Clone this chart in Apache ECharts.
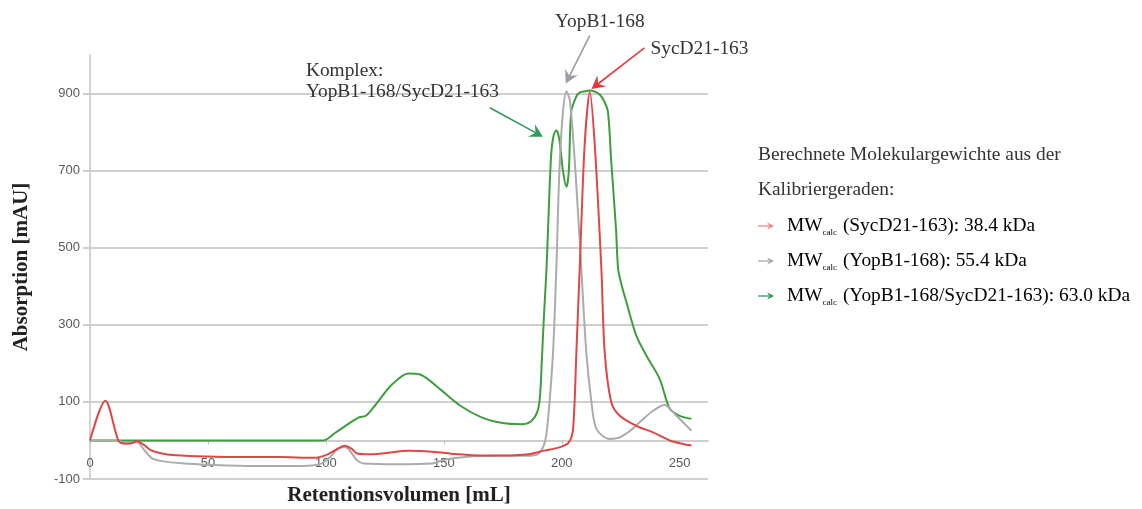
<!DOCTYPE html>
<html>
<head>
<meta charset="utf-8">
<script src="https://cdn.jsdelivr.net/npm/echarts@6/dist/echarts.min.js"></script>
<style>
  html, body { margin: 0; padding: 0; background: #ffffff; }
  #chart { width: 1142px; height: 509px; }
</style>
</head>
<body>
<div id="chart"></div>
<script>
// Elution profiles: [retention volume (mL), absorption (mAU)]
const sycdData = [
  [0, 0], [6.5, 103], [12, 0], [14, -8], [17, -8], [20, -2],
  [23, -12], [26, -26], [30, -33], [35, -38], [45, -41], [60, -43], [80, -43],
  [95, -45], [100, -38], [104, -25], [108, -14], [111, -22], [113, -33],
  [118, -36], [125, -33], [135, -27], [145, -29], [155, -35], [165, -39], [178, -39],
  [186, -36], [192, -27], [199, -18], [203, -5], [204.8, 30], [206.2, 229],
  [207.6, 445], [209.7, 766], [211.9, 904], [214, 766], [216.8, 445], [218.2, 229],
  [221, 99], [224.6, 64], [231.6, 38], [238.7, 21], [245.8, 0], [251.4, -9], [255, -13]
];

const yopbData = [
  [0, 0], [12, 0], [15, -8], [18, -6], [20, -4], [23, -25], [26, -45], [30, -53],
  [40, -60], [50, -63], [70, -66], [90, -66], [98, -60], [102, -42], [105, -22],
  [108, -17], [110, -25], [113, -50], [116, -60], [130, -62], [145, -60], [150, -50],
  [160, -42], [175, -40], [185, -40], [190, -35], [192.8, -5], [194.2, 56],
  [196.3, 229], [197.7, 445], [199, 700], [200.5, 852], [202, 905], [203.5, 880],
  [206, 679], [208.3, 445], [210.4, 229], [212.6, 99], [214.7, 30], [220.3, 4],
  [224.6, 8], [229, 25], [233, 47], [238.7, 77], [243.6, 92], [248.6, 64], [255, 25]
];

const komplexData = [
  [0, 0], [50, 0], [99, 0], [104, 20], [110, 45], [114, 60], [117, 64],
  [121, 92], [128, 145], [135, 174], [140, 171], [149, 130], [157, 90],
  [166, 60], [175, 45], [183, 42], [187, 50], [189.5, 72],
  [190.7, 110], [191.5, 200], [192.5, 330], [193.5, 440],
  [194.5, 600], [195.5, 740], [196.5, 790], [197.7, 805], [199, 780], [200.5, 700],
  [202, 658], [203, 700], [204, 852], [206, 890], [207.6, 903], [210, 906],
  [211.9, 908], [214, 905], [216, 898], [218, 880], [219.6, 852], [221, 722],
  [223, 549], [223.9, 445], [225.5, 400], [227.4, 359], [231.6, 272], [235.9, 220],
  [241.5, 160], [245.8, 82], [250, 64], [255, 56]
];

// Axis extents and tick spacing
const xRange = [0, 262];
const xStep = 50;
const yRange = [-100, 1000];
const yStep = 200;

// Peak labels: arrow tip in data space, tail offset in px
const peakNotes = [
  { lines: ['YopB1-168'], tip: [201.7, 926], tail: [24, -48], color: '#9c9ca4', textAt: [10, -14], align: 'center' },
  { lines: ['SycD21-163'], tip: [212.6, 912], tail: [53, -41], color: '#e53c3c', textAt: [6, 1], align: 'left' },
  { lines: ['Komplex:', 'YopB1-168/SycD21-163'], tip: [192, 788], tail: [-53, -29], color: '#2f9a5c', textAt: [-184, -37], align: 'left', lineGap: 21 }
];

// Side legend
const legendTitle = ['Berechnete Molekulargewichte aus der', 'Kalibriergeraden:'];
const legendRows = [
  { color: '#f08a8a', label: ' (SycD21-163): 38.4 kDa' },
  { color: '#a8a8a8', label: ' (YopB1-168): 55.4 kDa' },
  { color: '#2f9a5c', label: ' (YopB1-168/SycD21-163): 63.0 kDa' }
];

const serif = '"Liberation Serif", "Times New Roman", serif';
const sans = '"Liberation Sans", Arial, sans-serif';
const textSize = 19.4;

const chart = echarts.init(document.getElementById('chart'), null, { renderer: 'canvas' });

function curve(name, data, color) {
  return {
    name, type: 'line', data,
    showSymbol: false, symbol: 'none',
    smooth: 0.3,
    lineStyle: { color, width: 2 },
    itemStyle: { color },
    z: 3
  };
}

chart.setOption({
  backgroundColor: '#ffffff',
  animation: false,
  grid: { left: 90, right: 434, top: 55, bottom: 30, containLabel: false, outerBoundsMode: 'none' },
  xAxis: {
    type: 'value',
    min: xRange[0], max: xRange[1], interval: xStep,
    name: 'Retentionsvolumen [mL]',
    nameLocation: 'middle', nameGap: 45, nameMoveOverlap: false,
    nameTextStyle: { fontFamily: serif, fontWeight: 'bold', fontSize: 21, color: '#222' },
    axisLine: { onZero: false, lineStyle: { color: '#bdbdbd', width: 1.5 } },
    axisTick: { show: true, length: 4, lineStyle: { color: '#bdbdbd' } },
    axisLabel: { showMaxLabel: false, margin: 16, fontFamily: sans, fontSize: 13, color: '#595959' },
    splitLine: { show: false }
  },
  yAxis: {
    type: 'value',
    min: yRange[0], max: yRange[1], interval: yStep,
    name: 'Absorption [mAU]',
    nameLocation: 'middle', nameGap: 58, nameRotate: 90, nameMoveOverlap: false,
    nameTextStyle: { fontFamily: serif, fontWeight: 'bold', fontSize: 21, color: '#222' },
    axisLine: { show: true, lineStyle: { color: '#c4c4c4', width: 1.5 } },
    axisTick: { show: true, length: 7, lineStyle: { color: '#cfcfcf', width: 2 } },
    axisLabel: { showMaxLabel: false, margin: 10, fontFamily: sans, fontSize: 13, color: '#595959' },
    splitLine: { show: true, showMaxLine: false, lineStyle: { color: '#cfcfcf', width: 2 } }
  },
  series: [
    curve('YopB1-168/SycD21-163', komplexData, '#3e9e3e'),
    curve('YopB1-168', yopbData, '#ababab'),
    curve('SycD21-163', sycdData, '#e04646')
  ]
});

// The horizontal axis (line, labels, title) crosses the value axis at 0
const zeroPx = chart.convertToPixel({ yAxisIndex: 0 }, 0);
const floorPx = chart.convertToPixel({ yAxisIndex: 0 }, yRange[0]);
chart.setOption({ xAxis: { offset: zeroPx - floorPx } });

// Arrow: shaft plus a filled head pointing at (tx, ty)
function arrow(sx, sy, tx, ty, color, width, head) {
  const ang = Math.atan2(ty - sy, tx - sx);
  const hl = head, hw = head * 0.55;
  const bx = tx - hl * Math.cos(ang), by = ty - hl * Math.sin(ang);
  const nx = -Math.sin(ang), ny = Math.cos(ang);
  const mx = tx - hl * 0.65 * Math.cos(ang), my = ty - hl * 0.65 * Math.sin(ang);
  return [
    { type: 'line', silent: true, z: 10,
      shape: { x1: sx, y1: sy, x2: mx, y2: my },
      style: { stroke: color, lineWidth: width } },
    { type: 'polygon', silent: true, z: 10,
      shape: { points: [[tx, ty], [bx + nx * hw, by + ny * hw], [mx, my], [bx - nx * hw, by - ny * hw]] },
      style: { fill: color } }
  ];
}

const gfx = [];

peakNotes.forEach(n => {
  const p = chart.convertToPixel({ gridIndex: 0 }, n.tip);
  const sx = p[0] + n.tail[0], sy = p[1] + n.tail[1];
  gfx.push(...arrow(sx, sy, p[0], p[1], n.color, 1.6, 13));
  n.lines.forEach((t, i) => {
    gfx.push({
      type: 'text', silent: true, z: 11,
      x: sx + n.textAt[0], y: sy + n.textAt[1] + i * (n.lineGap || 0),
      style: { text: t, fill: '#333', font: textSize + 'px ' + serif, align: n.align, verticalAlign: 'middle' }
    });
  });
});

// Side legend block
const lx = 758;
legendTitle.forEach((t, i) => {
  gfx.push({
    type: 'text', silent: true, x: lx, y: 155 + i * 35,
    style: { text: t, fill: '#333', font: textSize + 'px ' + serif, verticalAlign: 'middle' }
  });
});
legendRows.forEach((r, i) => {
  const y = 226 + i * 35;
  gfx.push(...arrow(lx, y, lx + 16, y, r.color, 1.3, 7));
  gfx.push({
    type: 'text', silent: true, x: lx + 29, y: y,
    style: {
      text: '{m|MW}{s|calc}{m|' + r.label + '}',
      verticalAlign: 'middle',
      rich: {
        m: { fontFamily: serif, fontSize: textSize, color: '#333', lineHeight: 22, verticalAlign: 'middle' },
        s: { fontFamily: serif, fontSize: 9, color: '#333', lineHeight: 9, verticalAlign: 'bottom', padding: [0, 1, 0, 0] }
      }
    }
  });
});

chart.setOption({ graphic: gfx });
</script>
</body>
</html>
